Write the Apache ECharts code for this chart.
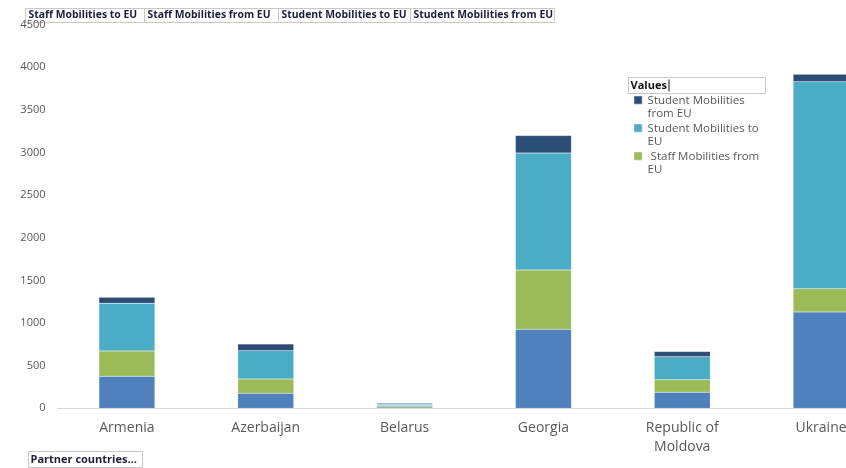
<!DOCTYPE html>
<html>
<head>
<meta charset="utf-8">
<script src="https://cdn.jsdelivr.net/npm/echarts@6/dist/echarts.min.js"></script>
<style>
  html, body { margin: 0; padding: 0; background: #fff; }
  #chart { width: 846px; height: 468px; }
</style>
</head>
<body>
<div id="chart"></div>
<script>
const categories = ['Armenia', 'Azerbaijan', 'Belarus', 'Georgia', 'Republic of\nMoldova', 'Ukraine']
const staffToEU = [376, 176, 15, 927, 188, 1130]
const staffFromEU = [297, 168, 15, 696, 146, 273]
const studentToEU = [560, 332, 18, 1370, 270, 2426]
const studentFromEU = [70, 79, 10, 207, 62, 90]
const fieldButtons = ['Staff Mobilities to EU', 'Staff Mobilities from EU', 'Student Mobilities to EU', 'Student Mobilities from EU']
const buttonEdges = [25, 144, 278, 410, 554]

const chart = echarts.init(document.getElementById('chart'))

const colors = {
  staffTo: '#4F81BD',
  staffFrom: '#9BBB59',
  studentTo: '#4BACC6',
  studentFrom: '#2C4D75'
}

function barSeries(name, data, color) {
  return {
    name: name,
    type: 'bar',
    stack: 'total',
    barWidth: 56,
    data: data,
    itemStyle: { color: color, borderColor: 'rgba(255,255,255,0.25)', borderWidth: 0.5 },
    emphasis: { disabled: true }
  }
}

// excel pivot field buttons on top
const buttons = fieldButtons.map((label, i) => ({
  type: 'group',
  left: buttonEdges[i],
  top: 8,
  children: [
    {
      type: 'rect',
      shape: { x: 0, y: 0, width: buttonEdges[i + 1] - buttonEdges[i], height: 14 },
      style: { fill: '#fff', stroke: '#c8c8c8', lineWidth: 1 }
    },
    {
      type: 'text',
      x: 3, y: 7,
      style: { text: label, fill: '#1b1f3a', font: 'bold 10.4px "Open Sans"', verticalAlign: 'middle' }
    }
  ]
}))

// legend marker sits on the first text line
const markIcon = 'path://M0,0h9v9h-9z M0,24h0.05v0.05h-0.05z'

chart.setOption({
  animation: false,
  // the last category runs past the right edge, as in the original
  grid: { left: 57.5, width: 833, top: 24.6, bottom: 59.7, outerBoundsMode: 'none' },
  xAxis: {
    type: 'category',
    data: categories,
    axisTick: { show: false },
    axisLine: { lineStyle: { color: '#d9d9d9', width: 1 } },
    axisLabel: { color: '#595959', fontSize: 14, fontFamily: 'Open Sans', margin: 10, lineHeight: 19, interval: 0 }
  },
  yAxis: {
    type: 'value',
    min: 0,
    max: 4500,
    interval: 500,
    splitLine: { show: false },
    axisLine: { show: false },
    axisTick: { show: false },
    axisLabel: { color: '#595959', fontSize: 11, fontFamily: 'Open Sans', margin: 12, formatter: v => String(v) }
  },
  legend: {
    orient: 'vertical',
    left: 633,
    top: 94,
    padding: 0,
    itemWidth: 9,
    itemHeight: 22,
    itemGap: 2,
    icon: markIcon,
    data: [
      { name: 'Student Mobilities from EU', icon: markIcon },
      { name: 'Student Mobilities to EU', icon: markIcon },
      { name: 'Staff Mobilities from EU', icon: markIcon }
    ],
    formatter: function (name) {
      if (name === 'Student Mobilities from EU') return 'Student Mobilities\nfrom EU'
      if (name === 'Student Mobilities to EU') return 'Student Mobilities to\nEU'
      return ' Staff Mobilities from\nEU'
    },
    textStyle: { color: '#595959', fontSize: 11.5, fontFamily: 'Open Sans', lineHeight: 13, padding: 0 },
    selectedMode: false
  },
  graphic: buttons.concat([
    {
      type: 'group',
      left: 628,
      top: 77,
      children: [
        { type: 'rect', shape: { x: 0, y: 0, width: 137, height: 16 }, style: { fill: '#fff', stroke: '#c8c8c8', lineWidth: 1 } },
        { type: 'text', x: 2, y: 8, style: { text: 'Values', fill: '#111', font: 'bold 11px "Open Sans"', verticalAlign: 'middle' } },
        { type: 'rect', shape: { x: 40, y: 2, width: 1, height: 12 }, style: { fill: '#111' } }
      ]
    },
    {
      type: 'group',
      left: 28,
      top: 451,
      children: [
        { type: 'rect', shape: { x: 0, y: 0, width: 114, height: 16 }, style: { fill: '#fff', stroke: '#c8c8c8', lineWidth: 1 } },
        { type: 'text', x: 2, y: 8, style: { text: 'Partner countries...', fill: '#1b1f3a', font: 'bold 11px "Open Sans"', verticalAlign: 'middle' } }
      ]
    }
  ]),
  series: [
    barSeries('Staff Mobilities to EU', staffToEU, colors.staffTo),
    barSeries('Staff Mobilities from EU', staffFromEU, colors.staffFrom),
    barSeries('Student Mobilities to EU', studentToEU, colors.studentTo),
    barSeries('Student Mobilities from EU', studentFromEU, colors.studentFrom)
  ]
})
</script>
</body>
</html>
